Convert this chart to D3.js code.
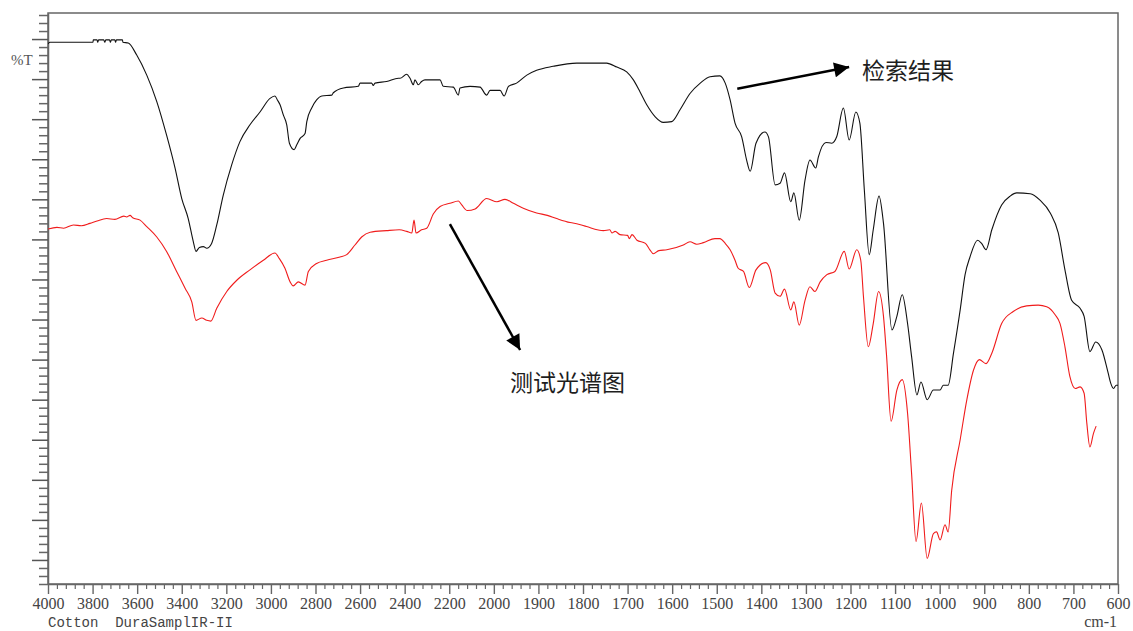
<!DOCTYPE html>
<html>
<head>
<meta charset="utf-8">
<script src="https://cdn.jsdelivr.net/npm/d3@7"></script>
<style>
  html, body { margin: 0; padding: 0; background: #fff; }
  svg { display: block; }
  .tick text { font-family: 'Liberation Serif', 'DejaVu Serif', serif; }
</style>
</head>
<body>
<svg id="chart" width="1133" height="631"></svg>
<script>
// ---- Data -------------------------------------------------------------
// Major tick labels on the wavenumber axis (scale changes at 2000 cm-1)
const xTickLabels = [4000, 3800, 3600, 3400, 3200, 3000, 2800, 2600, 2400, 2200, 2000,
  1900, 1800, 1700, 1600, 1500, 1400, 1300, 1200, 1100, 1000, 900, 800, 700, 600];

// Library search result (black trace): wavenumber (cm-1) and %T
const resultWavenumber = [4000, 3991, 3798, 3797, 3780, 3777, 3773, 3750, 3745, 3741, 3724, 3720, 3716,
  3700, 3697, 3693, 3666, 3664, 3640, 3602, 3557, 3512, 3468, 3430, 3400, 3371, 3348, 3336, 3321, 3303,
  3288, 3266, 3243, 3214, 3176, 3139, 3094, 3049, 3004, 2982, 2971, 2959, 2944, 2929, 2917, 2896, 2884,
  2869, 2847, 2839, 2817, 2795, 2772, 2727, 2720, 2675, 2608, 2600, 2548, 2541, 2533, 2481, 2428, 2421,
  2391, 2376, 2361, 2354, 2339, 2324, 2309, 2241, 2227, 2182, 2159, 2152, 2107, 2062, 2032, 2017, 1986,
  1977, 1967, 1949, 1926, 1904, 1867, 1814, 1747, 1724, 1702, 1687, 1672, 1657, 1638, 1620, 1601, 1582,
  1560, 1537, 1515, 1493, 1481, 1470, 1459, 1444, 1433, 1425, 1412, 1392, 1384, 1369, 1358, 1348, 1334,
  1327, 1315, 1302, 1291, 1278, 1272, 1255, 1242, 1231, 1216, 1203, 1188, 1179, 1169, 1158, 1149, 1136,
  1126, 1107, 1096, 1084, 1072, 1063, 1051, 1042, 1028, 1014, 999, 992, 981, 969, 954, 943, 932, 915,
  906, 896, 883, 861, 842, 827, 797, 775, 752, 734, 719, 704, 685, 676, 663, 650, 636, 622, 616, 610,
  604, 600];
const resultT = [64.4, 64.6, 64.6, 64.9, 64.9, 64.6, 64.9, 64.9, 64.6, 64.9, 64.9, 64.6, 64.9,
  64.9, 64.6, 64.9, 64.9, 64.6, 64.5, 63.0, 60.5, 57.2, 53.0, 48.9, 45.1, 42.6, 39.7, 38.5, 39.0, 39.1,
  38.9, 39.5, 41.8, 45.5, 49.3, 52.2, 54.3, 55.9, 57.6, 57.9, 57.4, 56.8, 55.5, 54.3, 52.0, 51.2, 51.8,
  52.6, 53.2, 54.7, 56.4, 57.4, 57.9, 58.0, 58.3, 58.9, 59.1, 59.5, 59.5, 59.2, 59.5, 59.7, 60.1, 60.1,
  60.6, 60.1, 59.3, 59.9, 59.3, 59.7, 59.9, 59.9, 59.1, 59.0, 58.0, 58.9, 59.1, 59.0, 58.0, 58.6, 58.6,
  57.9, 59.1, 59.5, 60.5, 61.1, 61.6, 62.0, 62.0, 61.5, 60.9, 59.9, 58.4, 56.8, 55.3, 54.6, 54.7, 56.2,
  58.2, 59.5, 60.3, 60.4, 59.5, 57.4, 54.5, 52.8, 49.9, 48.5, 52.0, 53.4, 52.8, 46.8, 47.0, 48.3, 44.7,
  45.8, 42.4, 47.4, 49.9, 48.9, 50.3, 52.1, 52.0, 52.8, 56.4, 52.4, 55.9, 54.5, 46.2, 38.1, 41.2, 45.4,
  42.0, 28.7, 30.4, 33.1, 29.5, 25.4, 20.6, 22.2, 20.0, 21.2, 21.2, 21.8, 21.8, 25.8, 31.2, 35.6, 37.8, 39.9,
  39.5, 38.7, 41.2, 44.3, 45.4, 45.8, 45.7, 44.9, 43.3, 40.8, 36.2, 32.4, 31.4, 30.4, 26.0, 27.2, 26.2, 23.3, 22.0, 21.4,
  21.8, 21.8];

// Measured test spectrum (red trace): wavenumber (cm-1) and %T
const sampleWavenumber = [4000, 3960, 3930, 3886, 3850, 3812, 3780, 3737, 3700, 3660, 3647, 3632, 3620,
  3587, 3557, 3512, 3468, 3423, 3385, 3355, 3336, 3310, 3288, 3270, 3243, 3198, 3153, 3094, 3034, 2982,
  2962, 2937, 2914, 2900, 2877, 2847, 2832, 2795, 2750, 2690, 2660, 2623, 2593, 2555, 2481, 2424, 2391,
  2368, 2358, 2349, 2324, 2301, 2271, 2241, 2197, 2159, 2144, 2119, 2084, 2032, 1993, 1975, 1956, 1934,
  1904, 1880, 1859, 1829, 1810, 1792, 1754, 1740, 1735, 1728, 1717, 1700, 1696, 1690, 1679, 1660, 1650,
  1642, 1630, 1612, 1575, 1560, 1545, 1530, 1504, 1493, 1481, 1470, 1459, 1452, 1440, 1427, 1412, 1390,
  1380, 1369, 1358, 1348, 1334, 1327, 1315, 1302, 1291, 1280, 1268, 1253, 1235, 1214, 1203, 1186, 1177,
  1171, 1160, 1149, 1137, 1126, 1119, 1109, 1096, 1084, 1072, 1063, 1053, 1041, 1028, 1014, 1007, 999,
  988, 981, 973, 954, 939, 924, 911, 896, 883, 861, 835, 805, 779, 760, 741, 730, 719, 708, 696, 685,
  676, 670, 663, 655, 649];
const sampleT = [41.3, 41.5, 41.4, 41.8, 41.7, 42.0, 42.3, 42.6, 42.5, 42.9, 42.8, 43.0, 42.7,
  42.4, 41.6, 40.3, 38.5, 36.0, 33.9, 32.2, 29.9, 30.2, 29.9, 29.8, 31.4, 33.5, 34.9, 36.2, 37.4, 38.3,
  37.6, 36.4, 34.7, 34.2, 34.7, 34.3, 36.0, 37.0, 37.4, 37.8, 38.1, 39.3, 40.3, 40.9, 41.1, 41.2, 41.0,
  40.8, 42.4, 40.8, 41.2, 41.4, 43.2, 44.1, 44.5, 44.8, 44.3, 43.6, 43.8, 45.1, 44.7, 45.0, 44.5, 43.9,
  43.3, 43.0, 42.6, 42.1, 41.9, 41.6, 41.1, 41.2, 40.8, 41.0, 40.6, 40.5, 40.1, 40.6, 39.9, 39.5, 38.7,
  38.2, 38.6, 38.7, 39.3, 39.7, 39.4, 39.6, 40.1, 40.1, 39.5, 38.7, 37.4, 36.4, 36.0, 34.0, 36.2, 37.1,
  36.2, 33.3, 32.9, 33.8, 31.2, 32.2, 29.3, 32.4, 34.1, 33.5, 34.7, 35.6, 36.0, 38.5, 36.3, 38.7, 37.4,
  32.9, 26.6, 29.5, 33.5, 30.4, 25.4, 17.3, 21.2, 22.5, 18.3, 10.8, 2.3, 7.1, 0.2, 3.3, 3.5, 2.5,
  4.4, 3.5, 8.7, 15.0, 20.0, 23.7, 25.0, 24.5, 25.8, 29.5, 31.0, 31.7, 31.8, 31.6, 30.6, 29.5, 26.6, 22.9, 21.4, 21.6,
  20.8, 17.1, 14.1, 15.8, 16.7];

// Annotation labels
const annotationTexts = ["检索结果", "测试光谱图"];
const footerText = "Cotton  DuraSamplIR-II";
const unitText = "cm-1";
const yLabelText = "%T";

// ---- Layout ----------------------------------------------------------
const svg = d3.select("#chart");
const plotLeft = 48, plotRight = 1118, plotTop = 13, plotBottom = 584;

// Wavenumber axis is piecewise: 200 cm-1 per division above 2000, 100 below
const x = d3.scaleLinear().domain([4000, 2000, 600])
  .range([plotLeft, plotLeft + (plotRight - plotLeft) * 10 / 24, plotRight]);
const y = d3.scaleLinear().domain([-3, 68.25]).range([plotBottom, plotTop]);

const axisColor = "#666";

// Frame
svg.append("rect")
  .attr("x", plotLeft).attr("y", plotTop)
  .attr("width", plotRight - plotLeft).attr("height", plotBottom - plotTop)
  .attr("fill", "none").attr("stroke", axisColor).attr("stroke-width", 1.5);

// X axis: minor ticks
const minorX = d3.range(4000, 2000, -40).concat(d3.range(2000, 599, -20))
  .filter(v => !xTickLabels.includes(v));
svg.append("g")
  .attr("transform", `translate(0,${plotBottom})`)
  .call(d3.axisBottom(x).tickValues(minorX).tickSize(5).tickSizeOuter(0).tickFormat(""))
  .call(g => g.select(".domain").remove())
  .call(g => g.selectAll("line").attr("stroke", axisColor).attr("stroke-width", 1.2));

// X axis: major ticks and labels
svg.append("g")
  .attr("transform", `translate(0,${plotBottom})`)
  .attr("font-family", "'Liberation Serif', 'DejaVu Serif', serif")
  .call(d3.axisBottom(x).tickValues(xTickLabels).tickSize(10).tickSizeOuter(0).tickPadding(3.5).tickFormat(d3.format("d")))
  .attr("font-family", "'Liberation Serif', 'DejaVu Serif', serif")
  .attr("font-size", 16)
  .call(g => g.select(".domain").attr("stroke", axisColor).attr("stroke-width", 1.5))
  .call(g => g.selectAll("line").attr("stroke", axisColor).attr("stroke-width", 1.4))
  .call(g => g.selectAll("text").attr("fill", "#444"));

// Y axis: ticks only (no numbers)
const yTicks = d3.range(-3, 69);
svg.append("g").attr("transform", `translate(${plotLeft},0)`)
  .call(d3.axisLeft(y).tickValues(yTicks.filter(v => v % 5 !== 0)).tickSize(9).tickSizeOuter(0).tickFormat(""))
  .call(g => g.select(".domain").remove())
  .call(g => g.selectAll("line").attr("stroke", axisColor).attr("stroke-width", 1.5));
svg.append("g").attr("transform", `translate(${plotLeft},0)`)
  .call(d3.axisLeft(y).tickValues(yTicks.filter(v => v % 5 === 0)).tickSize(16).tickSizeOuter(0).tickFormat(""))
  .call(g => g.select(".domain").attr("stroke", axisColor).attr("stroke-width", 1.5))
  .call(g => g.selectAll("line").attr("stroke", "#555").attr("stroke-width", 1.5));

// Axis captions
svg.append("text").attr("x", 11).attr("y", 65)
  .attr("font-family", "'Liberation Serif', 'DejaVu Serif', serif").attr("font-size", 15)
  .attr("fill", "#555").text(yLabelText);
svg.append("text").attr("x", plotLeft).attr("y", 627)
  .style("white-space", "pre")
  .attr("font-family", "'Liberation Mono', 'DejaVu Sans Mono', monospace").attr("font-size", 14)
  .attr("fill", "#444").text(footerText);
svg.append("text").attr("x", plotRight - 1).attr("y", 627).attr("text-anchor", "end")
  .attr("font-family", "'Liberation Serif', 'DejaVu Serif', serif").attr("font-size", 16)
  .attr("fill", "#444").text(unitText);

// ---- Spectra ---------------------------------------------------------
const line = d3.line().x(d => x(d[0])).y(d => y(d[1])).curve(d3.curveMonotoneX);
svg.append("clipPath").attr("id", "plotClip")
  .append("rect").attr("x", plotLeft).attr("y", plotTop)
  .attr("width", plotRight - plotLeft).attr("height", plotBottom - plotTop);

svg.append("path")
  .datum(d3.zip(resultWavenumber, resultT))
  .attr("clip-path", "url(#plotClip)")
  .attr("fill", "none").attr("stroke", "#111").attr("stroke-width", 1.1)
  .attr("d", line);

svg.append("path")
  .datum(d3.zip(sampleWavenumber, sampleT))
  .attr("clip-path", "url(#plotClip)")
  .attr("fill", "none").attr("stroke", "#f01c1c").attr("stroke-width", 1.1)
  .attr("d", line);

// ---- Annotations -----------------------------------------------------
const defs = svg.append("defs");
defs.append("marker").attr("id", "arrowHead")
  .attr("viewBox", "0 0 10 10").attr("refX", 10).attr("refY", 5)
  .attr("markerWidth", 6.5).attr("markerHeight", 6).attr("markerUnits", "strokeWidth")
  .attr("orient", "auto")
  .append("path").attr("d", "M0,0 L10,5 L0,10 Z").attr("fill", "#000");

// arrows: [startWavenumber, start%T, endWavenumber, end%T]
const arrows = [
  [1454, 58.8, 1203, 61.5],
  [2197, 41.9, 1941, 26.2]
];
svg.selectAll(".arrow").data(arrows).join("line")
  .attr("class", "arrow")
  .attr("x1", d => x(d[0])).attr("y1", d => y(d[1]))
  .attr("x2", d => x(d[2])).attr("y2", d => y(d[3]))
  .attr("stroke", "#000").attr("stroke-width", 2.5)
  .attr("marker-end", "url(#arrowHead)");

// label anchors: [wavenumber, %T]
const labelAnchors = [[1174, 61.3], [1964, 22.3]];
svg.selectAll(".note").data(annotationTexts).join("text")
  .attr("class", "note")
  .attr("x", (d, i) => x(labelAnchors[i][0]))
  .attr("y", (d, i) => y(labelAnchors[i][1]))
  .attr("dominant-baseline", "central")
  .attr("font-family", "'Noto Sans CJK SC', sans-serif")
  .attr("font-size", 23)
  .attr("fill", "#1e1e1e")
  .text(d => d);
</script>
</body>
</html>
